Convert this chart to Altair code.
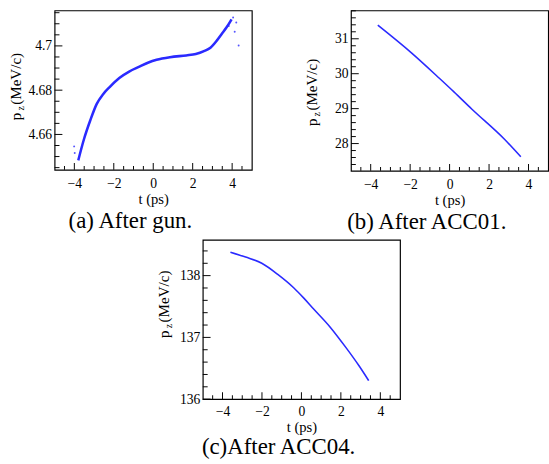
import altair as alt
import pandas as pd

FONT = "Liberation Serif"
BLUE = "#2a2aff"

# ---------------- data ----------------
# (a) After gun
a_t = [-3.80, -3.52, -3.19, -2.87, -2.54, -2.21, -1.72, -1.22, -0.73, -0.24, 0.17,
       0.85, 1.67, 2.16, 2.57, 2.90, 3.23, 3.47, 3.72, 3.88, 3.97]
a_p = [4.6483, 4.6576, 4.6664, 4.6737, 4.6782, 4.6814, 4.6855, 4.6884, 4.6905, 4.6925, 4.6937,
       4.6949, 4.6957, 4.6963, 4.6976, 4.6992, 4.7025, 4.7054, 4.7084, 4.7106, 4.7120]
a_out_t = [-4.01, -3.98, 3.83, 4.13, 4.21, 4.33, 4.05]
a_out_p = [4.6546, 4.6516, 4.7090, 4.7064, 4.7106, 4.7002, 4.7128]

# (b) After ACC01
b_t = [-3.64, -1.92, -0.52, 0.22, 1.12, 2.77, 3.61]
b_p = [31.39, 30.59, 29.87, 29.48, 28.99, 28.13, 27.62]

# (c) After ACC04
c_t = [-3.60, -2.83, -2.01, -1.20, -0.38, 0.11, 0.62, 1.45, 2.27, 2.92, 3.41]
c_p = [138.38, 138.30, 138.20, 138.02, 137.80, 137.64, 137.46, 137.17, 136.83, 136.54, 136.30]

x_major = [-4, -2, 0, 2, 4]
x_minor = [-4.5, -3.5, -3, -2.5, -1.5, -1, -0.5, 0.5, 1, 1.5, 2.5, 3, 3.5, 4.5]

a_yticks = [4.66, 4.68, 4.7]
a_yminor = [4.645, 4.65, 4.655, 4.665, 4.67, 4.675, 4.685, 4.69, 4.695, 4.705, 4.71, 4.715]
b_yticks = [28, 29, 30, 31]
b_yminor = [27.4, 27.6, 27.8, 28.2, 28.4, 28.6, 28.8, 29.2, 29.4, 29.6, 29.8,
            30.2, 30.4, 30.6, 30.8, 31.2, 31.4, 31.6, 31.8]
c_yticks = [136, 137, 138]
c_yminor = [136.2, 136.4, 136.6, 136.8, 137.2, 137.4, 137.6, 137.8, 138.2, 138.4]


def panel(t, p, out_t, out_p, ydom, yticks, yminor, yfmt, W, H, caption, pstart, lw,
          cap_off, title_pad, label_pad):
    df = pd.DataFrame({"t": t, "p": p})
    xs = alt.Scale(domain=[-5, 5], nice=False, zero=False)
    ys = alt.Scale(domain=ydom, nice=False, zero=False)
    xaxis = alt.Axis(orient="bottom", values=x_major, ticks=False, domain=False, grid=False,
                     labelPadding=label_pad, labelFont=FONT, labelFontSize=14, labelColor="black",
                     title="t (ps)", titlePadding=title_pad, titleFont=FONT, titleFontSize=15,
                     titleFontWeight="normal", titleColor="black")
    yaxis = alt.Axis(orient="left", values=yticks, format=yfmt, ticks=False, domain=False,
                     grid=False, labelPadding=3, labelFont=FONT, labelFontSize=14,
                     labelColor="black", title=None)
    main = alt.Chart(df).mark_line(color=BLUE, strokeWidth=lw, interpolate="monotone").encode(
        x=alt.X("t:Q", scale=xs, axis=xaxis),
        y=alt.Y("p:Q", scale=ys, axis=yaxis),
    )
    # inward tick marks (Tecplot style)
    xmaj = alt.Chart(pd.DataFrame({"t": x_major})).mark_tick(
        color="black", thickness=1, size=7, orient="vertical", opacity=1).encode(
        x=alt.X("t:Q", scale=xs, axis=xaxis), y=alt.value(H - 3.5))
    xmin = alt.Chart(pd.DataFrame({"t": x_minor})).mark_tick(
        color="black", thickness=1, size=4, orient="vertical", opacity=1).encode(
        x=alt.X("t:Q", scale=xs, axis=xaxis), y=alt.value(H - 2))
    ymaj = alt.Chart(pd.DataFrame({"p": yticks})).mark_tick(
        color="black", thickness=1, size=8, orient="horizontal", opacity=1).encode(
        y=alt.Y("p:Q", scale=ys, axis=yaxis), x=alt.value(4))
    ymin = alt.Chart(pd.DataFrame({"p": yminor})).mark_tick(
        color="black", thickness=1, size=5, orient="horizontal", opacity=1).encode(
        y=alt.Y("p:Q", scale=ys, axis=yaxis), x=alt.value(2.5))
    one = alt.Data(values=[{"k": 0}])
    tp = alt.Chart(one).mark_text(text="p", angle=270, align="left", baseline="alphabetic",
                                  font=FONT, fontSize=15.5, color="black").encode(
        x=alt.value(-35), y=alt.value(pstart))
    tz = alt.Chart(one).mark_text(text="z", angle=270, align="left", baseline="alphabetic",
                                  font=FONT, fontSize=10, color="black").encode(
        x=alt.value(-32), y=alt.value(pstart - 10))
    tm = alt.Chart(one).mark_text(text="(MeV/c)", angle=270, align="left", baseline="alphabetic",
                                  font=FONT, fontSize=15.5, color="black").encode(
        x=alt.value(-35), y=alt.value(pstart - 16))
    layers = [main, xmaj, xmin, ymaj, ymin, tp, tz, tm]
    if out_t:
        odf = pd.DataFrame({"t": out_t, "p": out_p})
        pts = alt.Chart(odf).mark_circle(color=BLUE, size=4, opacity=0.8).encode(
            x=alt.X("t:Q", scale=xs, axis=xaxis), y=alt.Y("p:Q", scale=ys, axis=yaxis))
        layers.append(pts)
    ch = alt.layer(*layers).properties(
        width=W, height=H,
        title=alt.TitleParams(text=caption, orient="bottom", anchor="middle", frame="bounds",
                              font=FONT, fontSize=23.5, fontWeight="normal", color="black",
                              offset=cap_off),
    )
    return ch


pa = panel(a_t, a_p, a_out_t, a_out_p, [4.644, 4.716], a_yticks, a_yminor, ".2~f",
           203, 164, "(a) After gun.", 113, 2.6, 3, 2, 7)
pb = panel(b_t, b_p, [], [], [27.22, 31.81], b_yticks, b_yminor, "d",
           203, 165, "(b) After ACC01.", 119, 1.6, 3, 2, 7)
pc = panel(c_t, c_p, [], [], [136.0, 138.58], c_yticks, c_yminor, "d",
           203, 164, "(c)After ACC04.", 101, 1.6, 1, 1, 6)

row = alt.hconcat(pa, pb, spacing=53)
chart = alt.vconcat(row, pc, spacing=4, center=True).properties(
    padding={"left": 8, "top": 3, "right": 0, "bottom": 0},
    background="white",
).configure_view(stroke="black", strokeWidth=1.2)

chart.save("out.html", embed_options={"renderer": "svg", "actions": False})
